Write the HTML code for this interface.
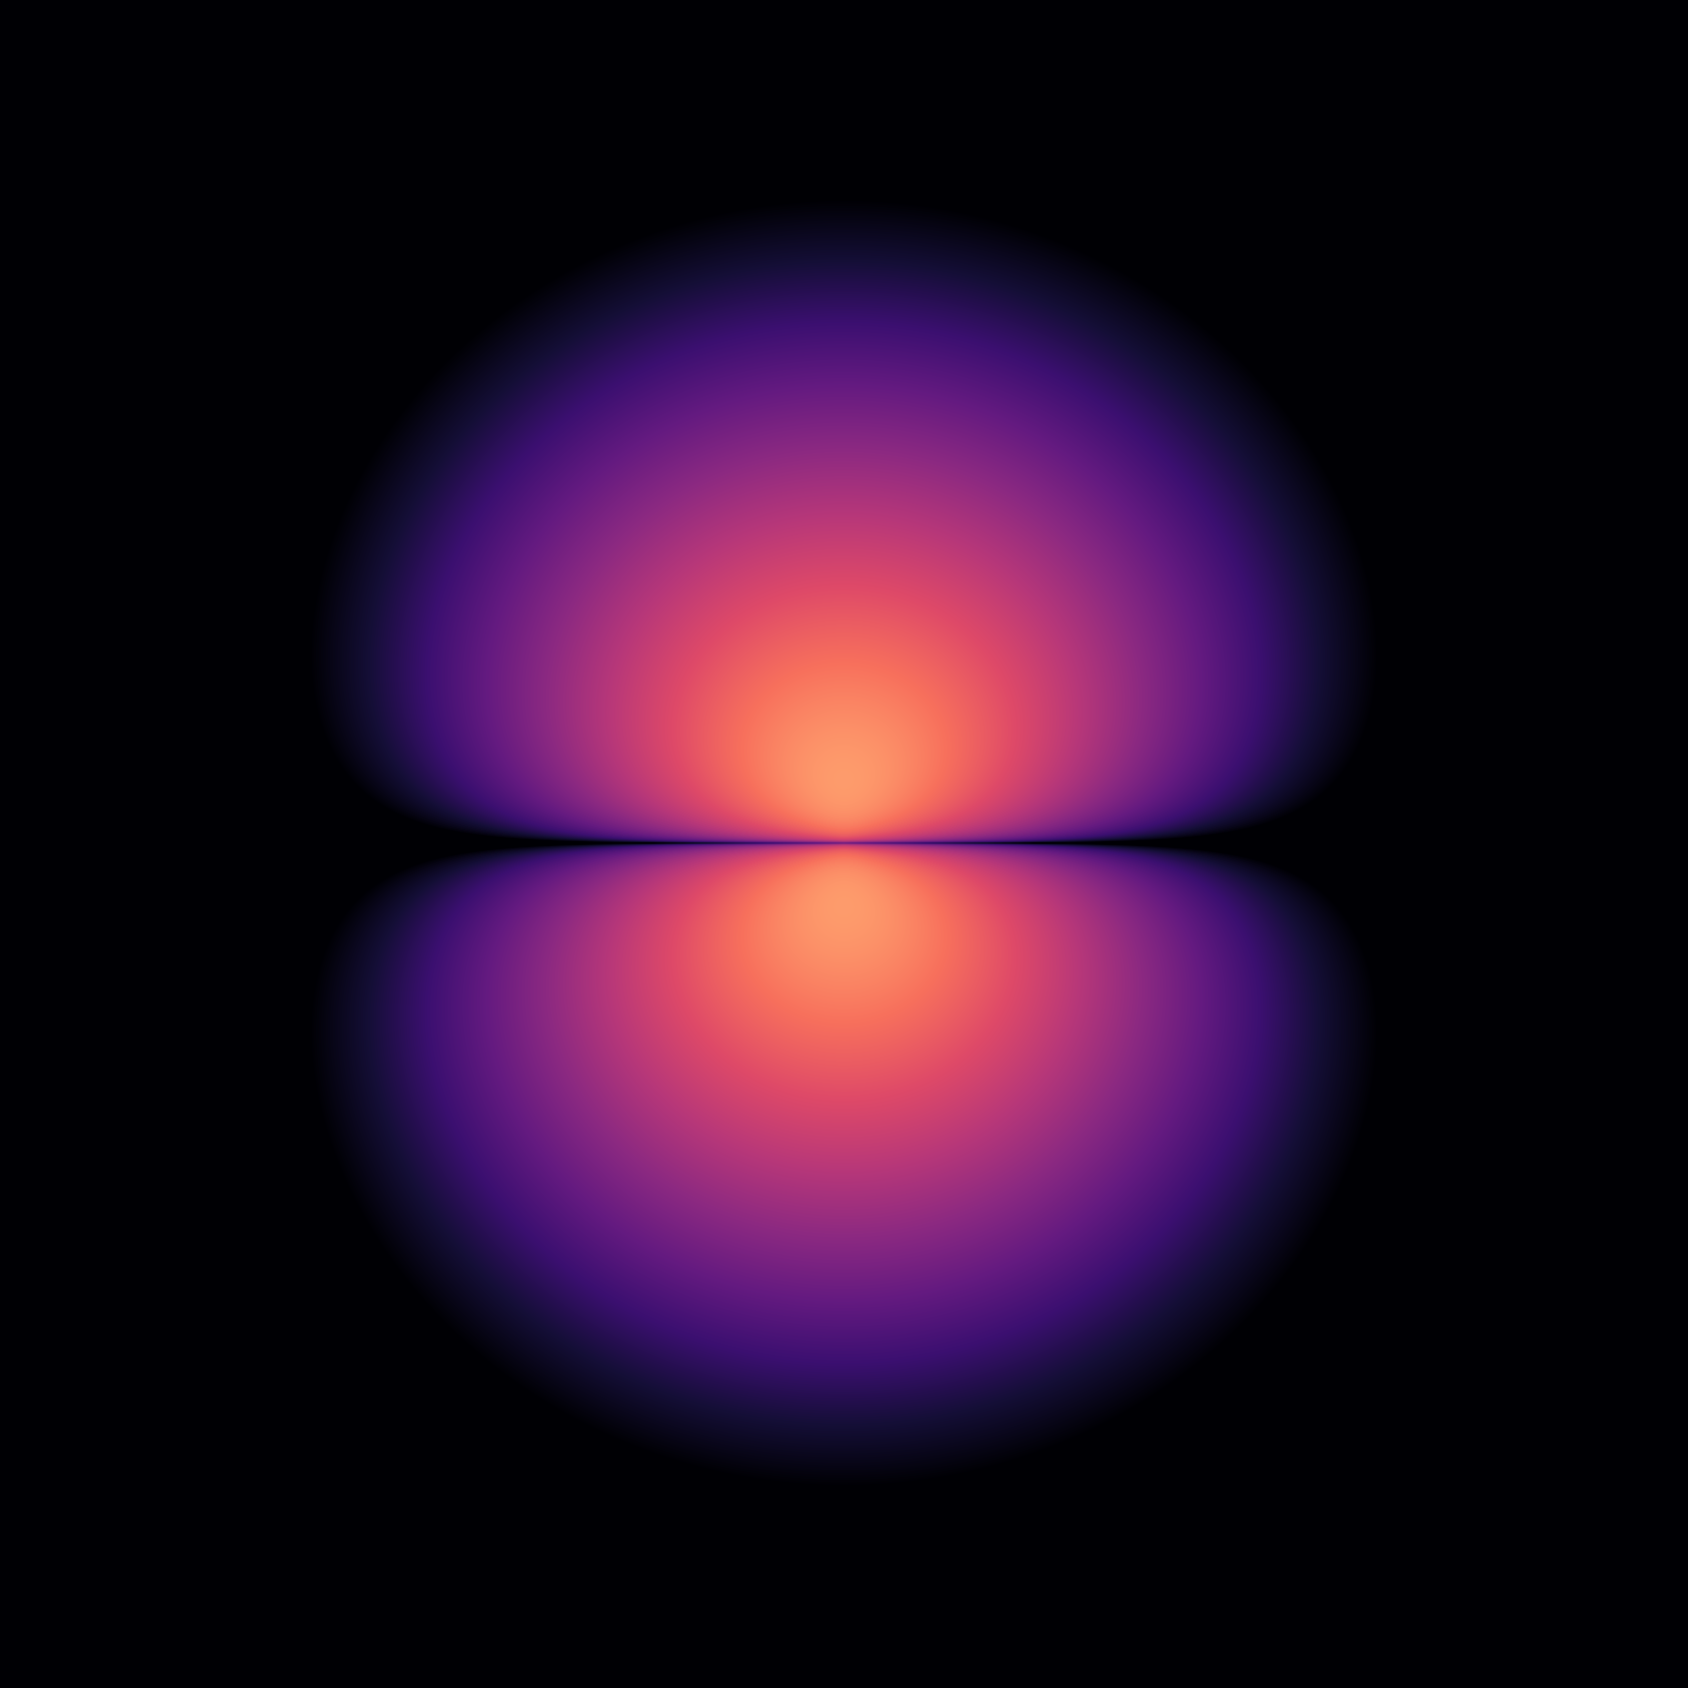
<!DOCTYPE html>
<html><head><meta charset="utf-8">
<style>html,body{margin:0;padding:0;background:#000004;}canvas{display:block;}</style>
</head><body>
<div style="width:1688px;height:1688px;">
<canvas id="c" width="1688" height="1688"></canvas>
</div>
<script>
// model parameters (2p_z orbital, log density)
const centerPx = [844, 843];
const unitsPerPx = [1 / 31.5];
const valueRange = [-14.4, 3.0];
const magmaStops = [0, 0.1, 0.2, 0.3, 0.4, 0.5, 0.6, 0.7, 0.8, 0.9, 1.0];
const magmaColors = ["#000004","#140e36","#3b0f70","#641a80","#8c2981","#b73779","#de4968","#f7705c","#fe9f6d","#fecf92","#fcfdbf"];

const rgb = magmaColors.map(h => [parseInt(h.substr(1,2),16),parseInt(h.substr(3,2),16),parseInt(h.substr(5,2),16)]);
function cmap(t){
  if(t<=0) return rgb[0]; if(t>=1) return rgb[rgb.length-1];
  let i=Math.min(magmaStops.length-2,Math.floor(t*10));
  const f=(t-magmaStops[i])/(magmaStops[i+1]-magmaStops[i]);
  const a=rgb[i],b=rgb[i+1];
  return [a[0]+(b[0]-a[0])*f,a[1]+(b[1]-a[1])*f,a[2]+(b[2]-a[2])*f];
}
const cv=document.getElementById('c');
const ctx=cv.getContext('2d');
const W=cv.width,H=cv.height;
const img=ctx.createImageData(W,H);
const d=img.data;
const s=unitsPerPx[0];
for(let py=0;py<H;py++){
  const z=(py+0.5-centerPx[1])*s;
  for(let px=0;px<W;px++){
    const x=(px+0.5-centerPx[0])*s;
    const r=Math.sqrt(x*x+z*z);
    const v=2*Math.log(Math.abs(z)+1e-9)-r;
    const t=(v-valueRange[0])/(valueRange[1]-valueRange[0]);
    const c=cmap(t);
    const k=(py*W+px)*4;
    d[k]=c[0];d[k+1]=c[1];d[k+2]=c[2];d[k+3]=255;
  }
}
ctx.putImageData(img,0,0);
</script>
</body></html>
